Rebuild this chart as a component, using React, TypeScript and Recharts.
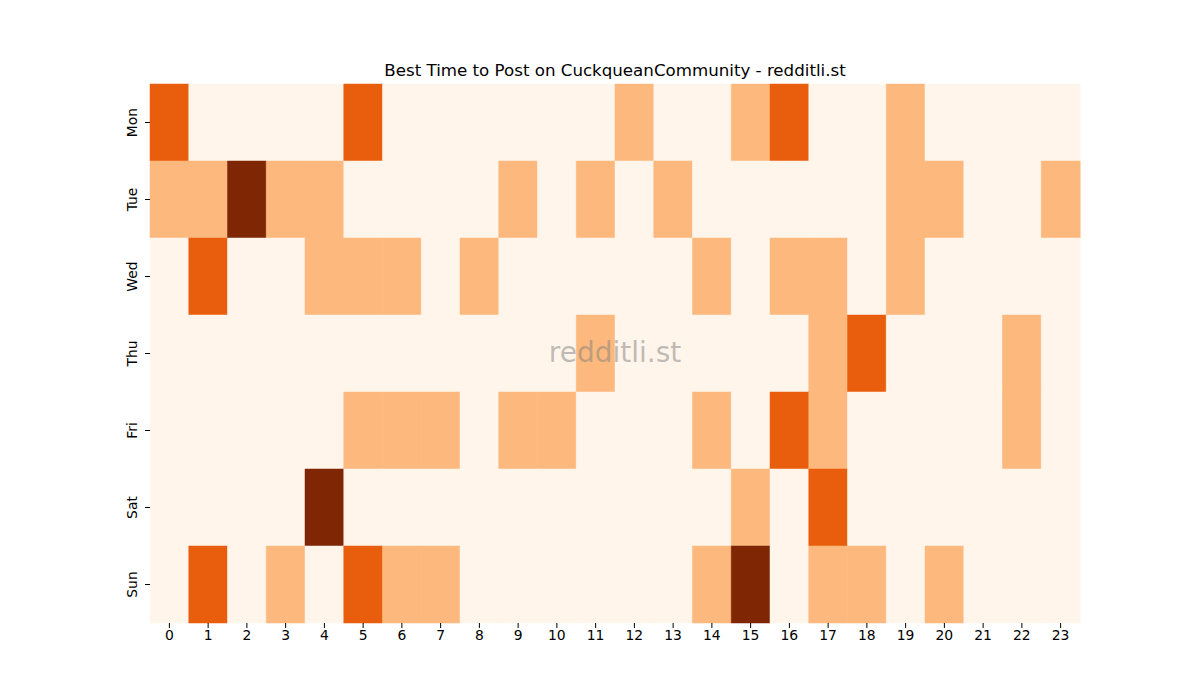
import React from "react";
import { BarChart, Bar, XAxis, YAxis, Cell } from "recharts";

const days = ["Mon", "Tue", "Wed", "Thu", "Fri", "Sat", "Sun"];
const hours = Array.from({ length: 24 }, (_, i) => i);

// activity level per hour (0 = none ... 3 = best)
const mon = [2, 0, 0, 0, 0, 2, 0, 0, 0, 0, 0, 0, 1, 0, 0, 1, 2, 0, 0, 1, 0, 0, 0, 0];
const tue = [1, 1, 3, 1, 1, 0, 0, 0, 0, 1, 0, 1, 0, 1, 0, 0, 0, 0, 0, 1, 1, 0, 0, 1];
const wed = [0, 2, 0, 0, 1, 1, 1, 0, 1, 0, 0, 0, 0, 0, 1, 0, 1, 1, 0, 1, 0, 0, 0, 0];
const thu = [0, 0, 0, 0, 0, 0, 0, 0, 0, 0, 0, 1, 0, 0, 0, 0, 0, 1, 2, 0, 0, 0, 1, 0];
const fri = [0, 0, 0, 0, 0, 1, 1, 1, 0, 1, 1, 0, 0, 0, 1, 0, 2, 1, 0, 0, 0, 0, 1, 0];
const sat = [0, 0, 0, 0, 3, 0, 0, 0, 0, 0, 0, 0, 0, 0, 0, 1, 0, 2, 0, 0, 0, 0, 0, 0];
const sun = [0, 2, 0, 1, 0, 2, 1, 1, 0, 0, 0, 0, 0, 0, 1, 3, 0, 1, 1, 0, 1, 0, 0, 0];

const levels: Record<string, number[]> = {
  Mon: mon,
  Tue: tue,
  Wed: wed,
  Thu: thu,
  Fri: fri,
  Sat: sat,
  Sun: sun,
};

const palette = ["#fff5eb", "#fdb97d", "#e95e0d", "#7f2704"];

const chartData = hours.map((h) => {
  const row: Record<string, number> = { hour: h };
  days.forEach((d) => {
    row[d] = 1;
  });
  return row;
});

const font = "'DejaVu Sans', sans-serif";

function DayTick(props: any) {
  const { x, y, payload } = props;
  return (
    <g transform={`translate(${x},${y})`}>
      <text
        transform="rotate(-90)"
        textAnchor="middle"
        dy={-6}
        fontSize={13.9}
        fontFamily={font}
        fill="#000"
      >
        {days[Math.floor(payload.value)]}
      </text>
    </g>
  );
}

export default function App() {
  return (
    <div style={{ position: "absolute", left: 0, top: 0, width: 1200, height: 700, background: "#fff" }}>
      <div
        style={{
          position: "absolute",
          top: 61,
          left: 0,
          width: 1230,
          textAlign: "center",
          fontFamily: font,
          fontSize: 16.67,
          color: "#000",
        }}
      >
        Best Time to Post on CuckqueanCommunity - redditli.st
      </div>
      <BarChart
        width={1200}
        height={700}
        data={chartData}
        barCategoryGap={0}
        margin={{ top: 84, right: 120, bottom: 47, left: 120 }}
      >
        <XAxis
          dataKey="hour"
          axisLine={false}
          tickLine={{ stroke: "#000" }}
          tickSize={5}
          interval={0}
          height={30}
          tick={{ fill: "#000", fontSize: 13.9, fontFamily: font }}
        />
        <YAxis
          type="number"
          domain={[0, 7]}
          reversed
          ticks={[0.5, 1.5, 2.5, 3.5, 4.5, 5.5, 6.5]}
          axisLine={false}
          tickLine={{ stroke: "#000" }}
          tickSize={5}
          width={30}
          interval={0}
          tick={<DayTick />}
        />
        {days.map((d) => (
          <Bar key={d} dataKey={d} stackId="a" isAnimationActive={false}>
            {levels[d].map((v, i) => (
              <Cell key={i} fill={palette[v]} stroke={palette[v]} strokeWidth={0.5} />
            ))}
          </Bar>
        ))}
      </BarChart>
      <div
        style={{
          position: "absolute",
          top: 336,
          left: 0,
          width: 1230,
          textAlign: "center",
          fontFamily: font,
          fontSize: 28,
          color: "rgba(128,128,128,0.5)",
        }}
      >
        redditli.st
      </div>
    </div>
  );
}
